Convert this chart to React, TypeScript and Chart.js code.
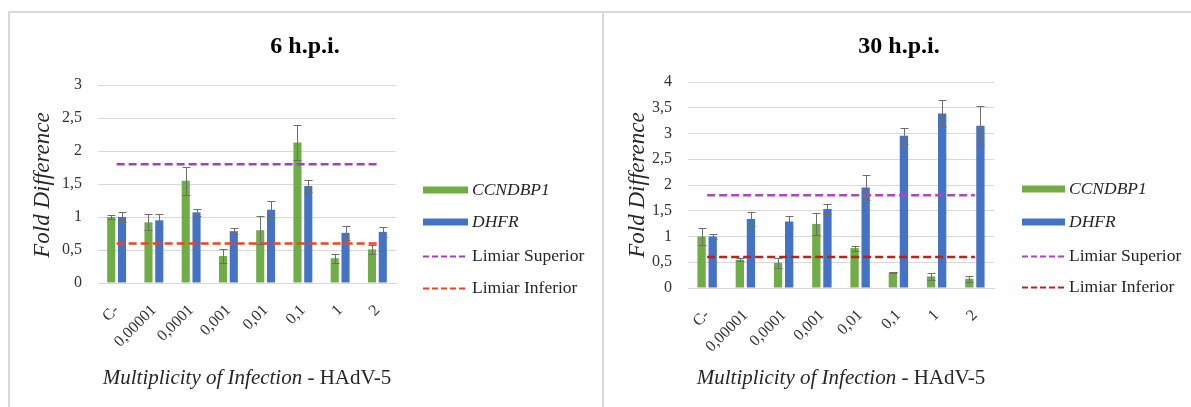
import React, { useEffect, useRef } from "react";
import { Chart, registerables } from "chart.js";
Chart.register(...registerables);

// ---------- DATA ----------
const categories = ["C-", "0,00001", "0,0001", "0,001", "0,01", "0,1", "1", "2"];
const seriesNames = ["CCNDBP1", "DHFR"];
const thresholdNames = ["Limiar Superior", "Limiar Inferior"];
const xTitleItalic = "Multiplicity of Infection";
const xTitleNormal = " - HAdV-5";
const yTitle = "Fold Difference";
const titles = ["6 h.p.i.", "30 h.p.i."];

const ccndbp1_6h = [1.0, 0.92, 1.55, 0.41, 0.8, 2.13, 0.375, 0.51];
const ccndbp1_6h_err = [0.03, 0.12, 0.21, 0.1, 0.21, 0.26, 0.065, 0.065];
const dhfr_6h = [1.0, 0.95, 1.07, 0.785, 1.11, 1.47, 0.76, 0.775];
const dhfr_6h_err = [0.08, 0.1, 0.055, 0.05, 0.13, 0.09, 0.11, 0.075];

const ccndbp1_30h = [1.0, 0.55, 0.49, 1.245, 0.775, 0.3, 0.225, 0.18];
const ccndbp1_30h_err = [0.16, 0.03, 0.1, 0.22, 0.05, 0.01, 0.07, 0.06];
const dhfr_30h = [1.0, 1.34, 1.29, 1.535, 1.95, 2.955, 3.39, 3.15];
const dhfr_30h_err = [0.045, 0.13, 0.1, 0.09, 0.25, 0.15, 0.27, 0.38];

const limiarSuperior = [1.8, 1.8, 1.8, 1.8, 1.8, 1.8, 1.8, 1.8];
const limiarInferior = [0.6, 0.6, 0.6, 0.6, 0.6, 0.6, 0.6, 0.6];

const yMax6h = 3;
const yMax30h = 4;
const yStep = 0.5;

// ---------- STYLE / LAYOUT ----------
const FONT = "'Liberation Serif', 'Times New Roman', serif";
const GREEN = "#70AD47";
const BLUE = "#4472C4";
const GRID = "#D9D9D9";
const TEXT = "#333333";

type Panel = {
  title: string;
  green: number[];
  greenErr: number[];
  blue: number[];
  blueErr: number[];
  yMax: number;
  purple: string;
  red: string;
  canvas: { left: number; top: number; width: number; height: number };
  area: { left: number; top: number; right: number; bottom: number };
  yTitleX: number;
  yTitleY: number;
  xTitleY: number;
  titleX: number;
  titleY: number;
  legend: { x: number; w: number; textX: number; rows: number[] };
};

const panels: Panel[] = [
  {
    title: titles[0],
    green: ccndbp1_6h,
    greenErr: ccndbp1_6h_err,
    blue: dhfr_6h,
    blueErr: dhfr_6h_err,
    yMax: yMax6h,
    purple: "#A040C0",
    red: "#EE4422",
    canvas: { left: 10, top: 14, width: 590, height: 393 },
    area: { left: 88, top: 71, right: 386, bottom: 269 },
    yTitleX: 33,
    yTitleY: 171,
    xTitleY: 364,
    titleX: 295,
    titleY: 33,
    legend: { x: 413, w: 45, textX: 462, rows: [176, 208, 242, 274] },
  },
  {
    title: titles[1],
    green: ccndbp1_30h,
    greenErr: ccndbp1_30h_err,
    blue: dhfr_30h,
    blueErr: dhfr_30h_err,
    yMax: yMax30h,
    purple: "#A848C4",
    red: "#C0201A",
    canvas: { left: 604, top: 14, width: 587, height: 393 },
    area: { left: 84, top: 68, right: 390, bottom: 274 },
    yTitleX: 34,
    yTitleY: 171,
    xTitleY: 364,
    titleX: 295,
    titleY: 33,
    legend: { x: 418, w: 43, textX: 465, rows: [175, 208, 242, 273] },
  },
];

function makeDecor(p: Panel, errors: (number[] | null)[]) {
  return {
    id: "decor",
    afterDatasetsDraw(chart: any) {
      const ctx = chart.ctx;
      const y = chart.scales.y;
      ctx.save();
      ctx.strokeStyle = "#6E6E6E";
      ctx.lineWidth = 1;
      chart.data.datasets.forEach((ds: any, di: number) => {
        const errs = errors[di];
        if (!errs) return;
        const meta = chart.getDatasetMeta(di);
        meta.data.forEach((bar: any, i: number) => {
          const v = ds.data[i];
          const e = errs[i];
          const x = Math.round(bar.x) + 0.5;
          const yt = Math.round(y.getPixelForValue(v + e)) + 0.5;
          const yb = Math.round(y.getPixelForValue(v - e)) + 0.5;
          ctx.beginPath();
          ctx.moveTo(x, yt);
          ctx.lineTo(x, yb);
          ctx.moveTo(x - 4, yt);
          ctx.lineTo(x + 4, yt);
          ctx.moveTo(x - 4, yb);
          ctx.lineTo(x + 4, yb);
          ctx.stroke();
        });
      });
      ctx.restore();
    },
    afterDraw(chart: any) {
      const ctx = chart.ctx;
      const area = chart.chartArea;
      ctx.save();
      // Title
      ctx.fillStyle = "#000";
      ctx.font = `bold 24px ${FONT}`;
      ctx.textAlign = "center";
      ctx.textBaseline = "middle";
      ctx.fillText(p.title, p.titleX, p.titleY);

      // Y title
      ctx.save();
      ctx.translate(p.yTitleX, p.yTitleY);
      ctx.rotate(-Math.PI / 2);
      ctx.font = `italic 23px ${FONT}`;
      ctx.fillStyle = "#262626";
      ctx.fillText(yTitle, 0, 0);
      ctx.restore();

      // X title (mixed italic / normal)
      ctx.font = `italic 21px ${FONT}`;
      const w1 = ctx.measureText(xTitleItalic).width;
      ctx.font = `21px ${FONT}`;
      const w2 = ctx.measureText(xTitleNormal).width;
      const cx = (area.left + area.right) / 2;
      const sx = cx - (w1 + w2) / 2;
      ctx.textAlign = "left";
      ctx.fillStyle = "#262626";
      ctx.font = `italic 21px ${FONT}`;
      ctx.fillText(xTitleItalic, sx, p.xTitleY);
      ctx.font = `21px ${FONT}`;
      ctx.fillText(xTitleNormal, sx + w1, p.xTitleY);

      // Legend
      const L = p.legend;
      chart.data.datasets.forEach((ds: any, di: number) => {
        const ry = L.rows[di];
        if (ds.type === "line") {
          ctx.save();
          ctx.strokeStyle = ds.borderColor;
          ctx.lineWidth = 2;
          ctx.setLineDash([6, 3]);
          ctx.beginPath();
          ctx.moveTo(L.x, ry + 0.5);
          ctx.lineTo(L.x + L.w, ry + 0.5);
          ctx.stroke();
          ctx.restore();
          ctx.font = `17.5px ${FONT}`;
        } else {
          ctx.fillStyle = ds.backgroundColor;
          ctx.fillRect(L.x, ry - 3.5, L.w, 7);
          ctx.font = `italic 17.5px ${FONT}`;
        }
        ctx.fillStyle = "#262626";
        ctx.textAlign = "left";
        ctx.textBaseline = "middle";
        ctx.fillText(ds.label, L.textX, ry);
      });
      ctx.restore();
    },
  };
}

function FoldChart({ p }: { p: Panel }) {
  const ref = useRef<HTMLCanvasElement | null>(null);
  useEffect(() => {
    if (!ref.current) return;
    const errors = [p.greenErr, p.blueErr, null, null];
    const chart = new Chart(ref.current, {
      type: "bar",
      data: {
        labels: categories,
        datasets: [
          {
            type: "bar",
            label: seriesNames[0],
            data: p.green,
            backgroundColor: GREEN,
            categoryPercentage: 0.58,
            barPercentage: 0.75,
            order: 1,
          },
          {
            type: "bar",
            label: seriesNames[1],
            data: p.blue,
            backgroundColor: BLUE,
            categoryPercentage: 0.58,
            barPercentage: 0.75,
            order: 1,
          },
          {
            type: "line",
            label: thresholdNames[0],
            data: limiarSuperior,
            borderColor: p.purple,
            backgroundColor: p.purple,
            borderWidth: 2.5,
            borderDash: [8, 4],
            pointRadius: 0,
            fill: false,
            order: 0,
          },
          {
            type: "line",
            label: thresholdNames[1],
            data: limiarInferior,
            borderColor: p.red,
            backgroundColor: p.red,
            borderWidth: 2.5,
            borderDash: [8, 4],
            pointRadius: 0,
            fill: false,
            order: 0,
          },
        ] as any,
      },
      options: {
        responsive: false,
        animation: false,
        devicePixelRatio: 1,
        layout: {
          padding: {
            left: 0,
            top: p.area.top,
            right: p.canvas.width - p.area.right,
            bottom: 0,
          },
        },
        plugins: {
          legend: { display: false },
          title: { display: false },
          tooltip: { enabled: false },
        },
        scales: {
          x: {
            grid: { display: false },
            border: { display: true, color: GRID, width: 1 },
            ticks: {
              autoSkip: false,
              minRotation: 45,
              maxRotation: 45,
              padding: 10,
              color: TEXT,
              font: { family: FONT, size: 16 },
            },
            afterFit(scale: any) {
              scale.height = p.canvas.height - p.area.bottom;
            },
          },
          y: {
            min: 0,
            max: p.yMax,
            grid: { color: GRID, drawTicks: false, lineWidth: 1 },
            border: { display: false },
            ticks: {
              stepSize: yStep,
              padding: 16,
              color: TEXT,
              font: { family: FONT, size: 16 },
              callback: (v: any) => String(v).replace(".", ","),
            },
            afterFit(scale: any) {
              scale.width = p.area.left;
            },
          },
        },
      } as any,
      plugins: [makeDecor(p, errors)],
    });
    return () => chart.destroy();
  }, [p]);
  return (
    <canvas
      ref={ref}
      width={p.canvas.width}
      height={p.canvas.height}
      style={{
        position: "absolute",
        left: p.canvas.left,
        top: p.canvas.top,
        width: p.canvas.width,
        height: p.canvas.height,
      }}
    />
  );
}

export default function App() {
  return (
    <div
      style={{
        position: "absolute",
        left: 0,
        top: 0,
        width: 1191,
        height: 407,
        background: "#fff",
        overflow: "hidden",
      }}
    >
      <div style={{ position: "absolute", left: 8, top: 11, width: 1183, height: 2, background: GRID }} />
      <div style={{ position: "absolute", left: 8, top: 11, width: 2, height: 396, background: GRID }} />
      <div style={{ position: "absolute", left: 602, top: 11, width: 2, height: 396, background: GRID }} />
      {panels.map((p, i) => (
        <FoldChart key={i} p={p} />
      ))}
    </div>
  );
}
